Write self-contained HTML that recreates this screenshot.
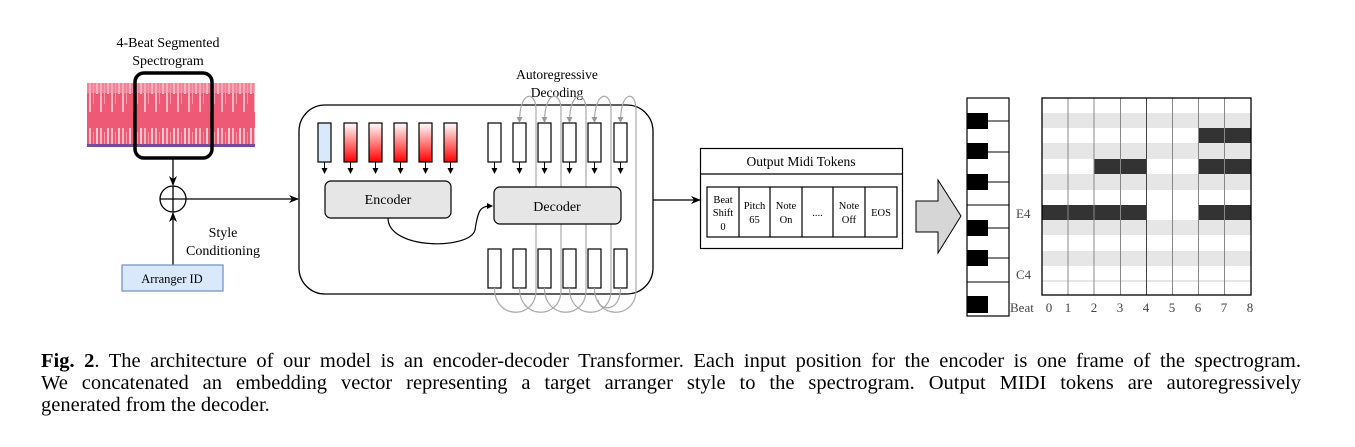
<!DOCTYPE html>
<html><head><meta charset="utf-8"><style>
body{margin:0;background:#fff;width:1355px;height:447px;overflow:hidden;position:relative;font-family:"Liberation Serif",serif}
.cap{position:absolute;left:41px;top:350px;width:1260px;font-size:20.5px;line-height:22px;color:#000}
.cap div{text-align:justify;text-align-last:justify;white-space:nowrap}
.cap div.l{text-align-last:left}
</style></head><body>
<svg width="1355" height="340" style="position:absolute;left:0;top:0" font-family="Liberation Serif, serif">
<defs>
<linearGradient id="rg" x1="0" y1="0" x2="0" y2="1"><stop offset="0" stop-color="#fff"/><stop offset="1" stop-color="#f00"/></linearGradient>
<marker id="a" markerWidth="10" markerHeight="8" refX="9" refY="4" orient="auto" markerUnits="userSpaceOnUse"><path d="M0,0 L10,4 L0,8 L3,4z" fill="#000"/></marker>
<marker id="s" markerWidth="6" markerHeight="6" refX="5" refY="3" orient="auto" markerUnits="userSpaceOnUse"><path d="M0,0 L6,3 L0,6z" fill="#000"/></marker>
<marker id="g" markerWidth="6" markerHeight="6" refX="5" refY="3" orient="auto" markerUnits="userSpaceOnUse"><path d="M0,0 L6,3 L0,6z" fill="#999"/></marker>
<pattern id="sp" width="11" height="64" patternUnits="userSpaceOnUse"><rect width="11" height="64" fill="#ee5a75"/><rect x="1" width="2" height="48" fill="#f7b8c4"/><rect x="5" y="4" width="1" height="36" fill="#f39aac"/><rect x="8" width="2" height="30" fill="#f8c8d2"/></pattern>
</defs>
<text x="168" y="47" font-size="14" text-anchor="middle">4-Beat Segmented</text>
<text x="168" y="65" font-size="14" text-anchor="middle">Spectrogram</text>
<rect x="87" y="83" width="168" height="64" fill="url(#sp)"/>
<rect x="87" y="83" width="168" height="10" fill="#f5a0b2" opacity=".6"/>
<rect x="87" y="144" width="168" height="3" fill="#7a4a9a"/>
<rect x="135" y="73" width="77" height="85" rx="9" fill="none" stroke="#000" stroke-width="3.5"/>
<line x1="173" y1="158" x2="173" y2="185" stroke="#000" stroke-width="1.3" marker-end="url(#a)"/>
<circle cx="173" cy="199" r="13" fill="none" stroke="#000" stroke-width="1.3"/>
<line x1="160" y1="199" x2="186" y2="199" stroke="#000" stroke-width="1.3"/>
<line x1="173" y1="186" x2="173" y2="212" stroke="#000" stroke-width="1.3"/>
<line x1="186" y1="199" x2="298" y2="199" stroke="#000" stroke-width="1.3" marker-end="url(#a)"/>
<line x1="173" y1="265" x2="173" y2="213" stroke="#000" stroke-width="1.3" marker-end="url(#a)"/>
<text x="223" y="237" font-size="14" text-anchor="middle">Style</text>
<text x="223" y="255" font-size="14" text-anchor="middle">Conditioning</text>
<rect x="122" y="265" width="101" height="26" fill="#dae8fc" stroke="#6c8ebf" stroke-width="1.2"/>
<text x="172" y="283" font-size="12.5" text-anchor="middle">Arranger ID</text>
<rect x="299" y="105" width="354" height="189" rx="26" fill="#fff" stroke="#000" stroke-width="1.3"/>
<text x="557" y="79" font-size="13.5" text-anchor="middle">Autoregressive</text>
<text x="557" y="97" font-size="13.5" text-anchor="middle">Decoding</text>
<g stroke="#000" stroke-width="1.2">
<rect x="318" y="123" width="13" height="39" fill="#dae8fc"/>
<rect x="344" y="123" width="13" height="39" fill="url(#rg)"/>
<rect x="369" y="123" width="13" height="39" fill="url(#rg)"/>
<rect x="394" y="123" width="13" height="39" fill="url(#rg)"/>
<rect x="419" y="123" width="13" height="39" fill="url(#rg)"/>
<rect x="444" y="123" width="13" height="39" fill="url(#rg)"/>
<g fill="#fff">
<rect x="488" y="123" width="13" height="39"/><rect x="513" y="123" width="13" height="39"/><rect x="538" y="123" width="13" height="39"/><rect x="563" y="123" width="13" height="39"/><rect x="588" y="123" width="13" height="39"/><rect x="614" y="123" width="13" height="39"/>
<rect x="488" y="249" width="13" height="39"/><rect x="513" y="249" width="13" height="39"/><rect x="538" y="249" width="13" height="39"/><rect x="563" y="249" width="13" height="39"/><rect x="588" y="249" width="13" height="39"/><rect x="614" y="249" width="13" height="39"/>
</g>
</g>
<g stroke="#000" stroke-width="1" marker-end="url(#s)">
<line x1="324.5" y1="162" x2="324.5" y2="173"/><line x1="350.5" y1="162" x2="350.5" y2="173"/><line x1="375.5" y1="162" x2="375.5" y2="173"/><line x1="400.5" y1="162" x2="400.5" y2="173"/><line x1="425.5" y1="162" x2="425.5" y2="173"/><line x1="450.5" y1="162" x2="450.5" y2="173"/>
<line x1="494.5" y1="162" x2="494.5" y2="173"/><line x1="519.5" y1="162" x2="519.5" y2="173"/><line x1="544.5" y1="162" x2="544.5" y2="173"/><line x1="569.5" y1="162" x2="569.5" y2="173"/><line x1="594.5" y1="162" x2="594.5" y2="173"/><line x1="620.5" y1="162" x2="620.5" y2="173"/>
</g>
<g fill="none" stroke="#aaa" stroke-width="1.2" marker-end="url(#g)">
<path d="M494.5,288 C494.5,320 536,320 536,290 L536,110 C536,90 519.5,90 519.5,122"/>
<path d="M519.5,288 C519.5,320 561,320 561,290 L561,110 C561,90 544.5,90 544.5,122"/>
<path d="M544.5,288 C544.5,320 586,320 586,290 L586,110 C586,90 569.5,90 569.5,122"/>
<path d="M569.5,288 C569.5,320 611,320 611,290 L611,110 C611,90 594.5,90 594.5,122"/>
<path d="M594.5,288 C594.5,320 636,320 636,290 L636,110 C636,90 620.5,90 620.5,122"/>
</g>
<path d="M620.5,288 C620.5,312 600,312 598,300" fill="none" stroke="#aaa" stroke-width="1.2"/>
<rect x="325" y="181" width="126" height="37" rx="6" fill="#e6e6e6" stroke="#000" stroke-width="1.2"/>
<text x="388" y="204" font-size="14" text-anchor="middle">Encoder</text>
<rect x="494" y="187" width="127" height="37" rx="6" fill="#e6e6e6" stroke="#000" stroke-width="1.2"/>
<text x="557" y="211" font-size="14" text-anchor="middle">Decoder</text>
<path d="M388,218 C388,250 470,250 475,230 C478,210 480,206 492,206" fill="none" stroke="#000" stroke-width="1.2" marker-end="url(#s)"/>
<line x1="653" y1="200" x2="700" y2="200" stroke="#000" stroke-width="1.3" marker-end="url(#a)"/>
<rect x="700.5" y="148.5" width="202" height="100" fill="#fff" stroke="#000" stroke-width="1.2"/>
<line x1="700" y1="174" x2="903" y2="174" stroke="#000" stroke-width="1.2"/>
<text x="801" y="166" font-size="13.5" text-anchor="middle">Output Midi Tokens</text>
<rect x="707" y="187" width="190" height="50" fill="#fff" stroke="#000" stroke-width="1.2"/>
<g stroke="#000" stroke-width="1.2"><line x1="739" y1="187" x2="739" y2="237"/><line x1="770" y1="187" x2="770" y2="237"/><line x1="802" y1="187" x2="802" y2="237"/><line x1="833" y1="187" x2="833" y2="237"/><line x1="865" y1="187" x2="865" y2="237"/></g>
<g font-size="10.5" text-anchor="middle">
<text x="723" y="203">Beat</text><text x="723" y="216">Shift</text><text x="723" y="230">0</text>
<text x="754.5" y="209">Pitch</text><text x="754.5" y="223">65</text>
<text x="786" y="209">Note</text><text x="786" y="223">On</text>
<text x="817.5" y="216">....</text>
<text x="849" y="209">Note</text><text x="849" y="223">Off</text>
<text x="881" y="216">EOS</text>
</g>
<path d="M916,201 L938,201 L938,180 L961,216 L938,253 L938,232 L916,232z" fill="#d6d6d6" stroke="#000" stroke-width="1"/>
<rect x="967" y="98" width="42" height="218" fill="#fff" stroke="#000" stroke-width="1.2"/>
<g stroke="#000" stroke-width="1"><line x1="988" y1="121" x2="1009" y2="121"/><line x1="988" y1="152" x2="1009" y2="152"/><line x1="988" y1="182" x2="1009" y2="182"/><line x1="967" y1="205" x2="1009" y2="205"/><line x1="988" y1="228" x2="1009" y2="228"/><line x1="988" y1="258" x2="1009" y2="258"/><line x1="967" y1="282" x2="1009" y2="282"/></g>
<g fill="#000"><rect x="967" y="113" width="21" height="16"/><rect x="967" y="143" width="21" height="16"/><rect x="967" y="174" width="21" height="16"/><rect x="967" y="220" width="21" height="16"/><rect x="967" y="250" width="21" height="16"/><rect x="967" y="296" width="21" height="17"/></g>
<g fill="#e6e6e6"><rect x="1042" y="113" width="209" height="15"/><rect x="1042" y="143" width="209" height="16"/><rect x="1042" y="174" width="209" height="16"/><rect x="1042" y="220" width="209" height="15"/><rect x="1042" y="251" width="209" height="15"/></g>
<line x1="1042" y1="281" x2="1251" y2="281" stroke="#ccc"/>
<g fill="#333"><rect x="1198" y="128" width="53" height="15"/><rect x="1094" y="159" width="52" height="15"/><rect x="1198" y="159" width="53" height="15"/><rect x="1042" y="205" width="104" height="15"/><rect x="1198" y="205" width="53" height="15"/></g>
<g stroke="#888" stroke-width="1"><line x1="1068" y1="98" x2="1068" y2="295"/><line x1="1094" y1="98" x2="1094" y2="295"/><line x1="1120.5" y1="98" x2="1120.5" y2="295"/><line x1="1146.5" y1="98" x2="1146.5" y2="295" stroke="#444"/><line x1="1172.5" y1="98" x2="1172.5" y2="295"/><line x1="1198.5" y1="98" x2="1198.5" y2="295"/><line x1="1224.5" y1="98" x2="1224.5" y2="295"/></g>
<rect x="1042" y="98" width="209" height="197" fill="none" stroke="#000" stroke-width="1.3"/>
<g font-size="13" fill="#444"><text x="1016" y="218">E4</text><text x="1016" y="279">C4</text><text x="1010" y="312">Beat</text></g>
<g font-size="13" fill="#444" text-anchor="middle"><text x="1049" y="312">0</text><text x="1068" y="312">1</text><text x="1094" y="312">2</text><text x="1120" y="312">3</text><text x="1146" y="312">4</text><text x="1172" y="312">5</text><text x="1198" y="312">6</text><text x="1224" y="312">7</text><text x="1250" y="312">8</text></g>
</svg>
<div class="cap">
<div><b>Fig. 2</b>. The architecture of our model is an encoder-decoder Transformer. Each input position for the encoder is one frame of the spectrogram.</div>
<div>We concatenated an embedding vector representing a target arranger style to the spectrogram. Output MIDI tokens are autoregressively</div>
<div class="l">generated from the decoder.</div>
</div>
</body></html>
